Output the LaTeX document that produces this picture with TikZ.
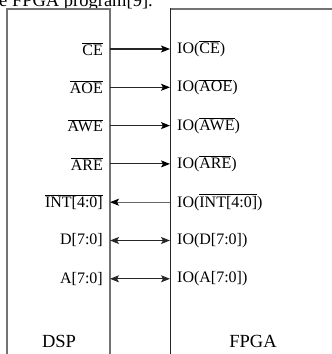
\documentclass[tikz,border=0pt]{standalone}
\usepackage{fontspec}
\setmainfont{Liberation Serif}
\usetikzlibrary{arrows.meta}
\newcommand{\ovl}[1]{$\overline{\hbox{#1}}$}
\begin{document}
\begin{tikzpicture}[x=1pt,y=1pt,
  boxline/.style={draw=black!55, line width=1.7pt},
  fpgaline/.style={draw=black!85, line width=1pt},
  sig/.style={draw=black!85, line width=1.1pt},
  tip/.style={-{Stealth[length=9pt,width=7pt,inset=2pt,black]}},
  both/.style={{Stealth[length=9pt,width=7pt,inset=2pt]}-{Stealth[length=9pt,width=7pt,inset=2pt]}},
  dsplabel/.style={anchor=east, font=\fontsize{16}{18}\selectfont, inner sep=0pt},
  fpgalabel/.style={anchor=west, font=\fontsize{16}{18}\selectfont, inner sep=0pt},
  title/.style={anchor=base, font=\fontsize{18.5}{20}\selectfont, inner sep=0pt}]
\useasboundingbox (0,0) rectangle (332,354);
\clip (0,0) rectangle (332,354);

% running text of the page above the figure
\node[anchor=base west, inner sep=0pt, font=\fontsize{18.5}{20}\selectfont] (caption) at (-1,347.5) {e FPGA program[9].};

% DSP block (open below the visible area)
\draw[boxline] (7,-5) -- (7,345) -- (110,345) -- (110,-5);
% FPGA block
\draw[boxline] (170,345) -- (340,345);
\draw[fpgaline] (170,-5) -- (170,345.5);

\node[title] (dsp) at (59,6) {DSP};
\node[title] (fpga) at (253,6) {FPGA};

% signal rows
\foreach \i/\dl/\fl in {
  1/\ovl{CE}/IO(\ovl{CE}),
  2/\ovl{AOE}/IO(\ovl{AOE}),
  3/\ovl{AWE}/IO(\ovl{AWE}),
  4/\ovl{ARE}/IO(\ovl{ARE}),
  5/\ovl{INT[4:0]}/IO(\ovl{INT[4:0]}),
  6/D[7:0]/IO(D[7:0]),
  7/A[7:0]/IO(A[7:0])}{
  \pgfmathsetmacro{\yy}{354-49-38.3*(\i-1)}
  \coordinate (d\i) at (110,\yy);
  \coordinate (f\i) at (170,\yy);
  \node[dsplabel] (dl\i) at (103,\yy) {\dl};
  \node[fpgalabel] (fl\i) at (177,\yy) {\fl};
}

% connectors
\foreach \i in {1,2,3,4}{
  \draw[sig, tip] (d\i) -- (f\i);
}
\draw[sig, draw=black!60, tip] (f5) -- (d5);
\draw[sig, both] (d6) -- (f6);
\draw[sig, both] (d7) -- (f7);
\end{tikzpicture}
\end{document}
